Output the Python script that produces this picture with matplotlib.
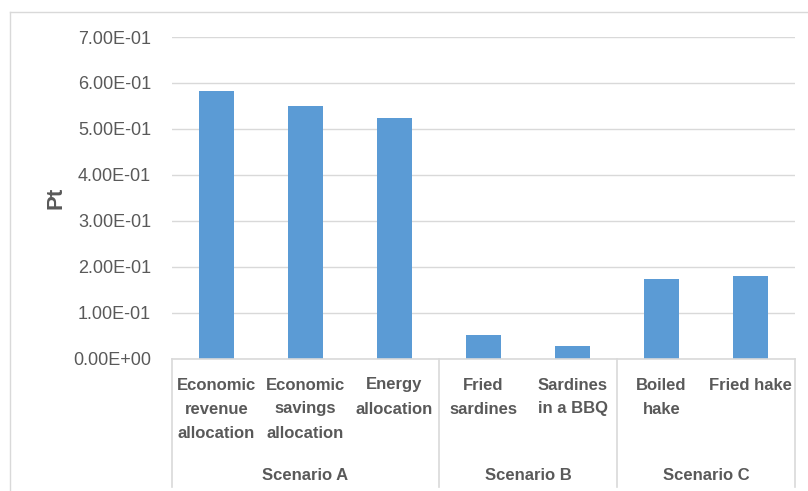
import matplotlib
matplotlib.use("Agg")
import matplotlib.pyplot as plt
from matplotlib.lines import Line2D
from matplotlib.ticker import FuncFormatter
import matplotlib.transforms as mtransforms

# data
categories = [
    "Economic\nrevenue\nallocation",
    "Economic\nsavings\nallocation",
    "Energy\nallocation",
    "Fried\nsardines",
    "Sardines\nin a BBQ",
    "Boiled\nhake",
    "Fried hake",
]
values = [0.582, 0.549, 0.524, 0.051, 0.027, 0.174, 0.179]
groups = ["Scenario A", "Scenario B", "Scenario C"]
group_sizes = [3, 2, 2]

bar_color = "#5B9BD5"
grid_color = "#D9D9D9"
text_color = "#595959"

plt.rcParams["font.family"] = ["Liberation Sans", "DejaVu Sans"]

W, H = 808, 491
fig = plt.figure(figsize=(W / 100, H / 100), dpi=100)
# plot area in pixels: x 172..795, y 37..358.5
left, right, top, bottom = 172, 795, 37, 358.5
ax = fig.add_axes([left / W, 1 - bottom / H, (right - left) / W, (bottom - top) / H])

x = list(range(len(categories)))
ax.bar(x, values, width=0.4, color=bar_color, zorder=3)

ax.set_xlim(-0.5, len(categories) - 0.5)
ax.set_ylim(0, 0.7)
ax.set_yticks([i / 10 for i in range(8)])
ax.yaxis.set_major_formatter(FuncFormatter(lambda v, p: "{:.2E}".format(v)))
ax.tick_params(axis="y", length=0, pad=15, labelsize=13, labelcolor=text_color)
ax.set_xticks([])
ax.grid(axis="y", color=grid_color, linewidth=1.0, zorder=0)

for side in ["left", "right", "top"]:
    ax.spines[side].set_visible(False)
ax.spines["bottom"].set_color(grid_color)
ax.spines["bottom"].set_linewidth(1.2)
ax.spines["bottom"].set_zorder(4)

ax.set_ylabel("Pt", fontsize=16, fontweight="bold", color=text_color)
ax.yaxis.set_label_coords(-0.169, 0.5)

# multi-level category axis
trans = mtransforms.blended_transform_factory(ax.transData, ax.transAxes)
ax_h = bottom - top
for i, lab in enumerate(categories):
    ax.annotate(lab, xy=(i, 0), xycoords=trans, xytext=(0, -19),
                textcoords="offset pixels", ha="center", va="top",
                multialignment="center", fontsize=12, fontweight="bold",
                color=text_color, linespacing=1.75, annotation_clip=False)

start = -0.5
edges = [start]
for g, n in zip(groups, group_sizes):
    mid = start + n / 2
    ax.text(mid, -116.5 / ax_h, g, transform=trans, ha="center", va="center",
            fontsize=12, fontweight="bold", color=text_color)
    start += n
    edges.append(start)

for e in edges:
    ax.plot([e, e], [0, -128.5 / ax_h], transform=trans, color=grid_color,
            linewidth=1.2, clip_on=False, zorder=4)

# chart area border (cropped on right and bottom)
fig.add_artist(Line2D([10 / W, 10 / W], [0, 1 - 12 / H], color=grid_color,
                      linewidth=1.0, transform=fig.transFigure))
fig.add_artist(Line2D([10 / W, 1], [1 - 12 / H, 1 - 12 / H], color=grid_color,
                      linewidth=1.0, transform=fig.transFigure))

fig.savefig("out.png", dpi=100, facecolor="white")
